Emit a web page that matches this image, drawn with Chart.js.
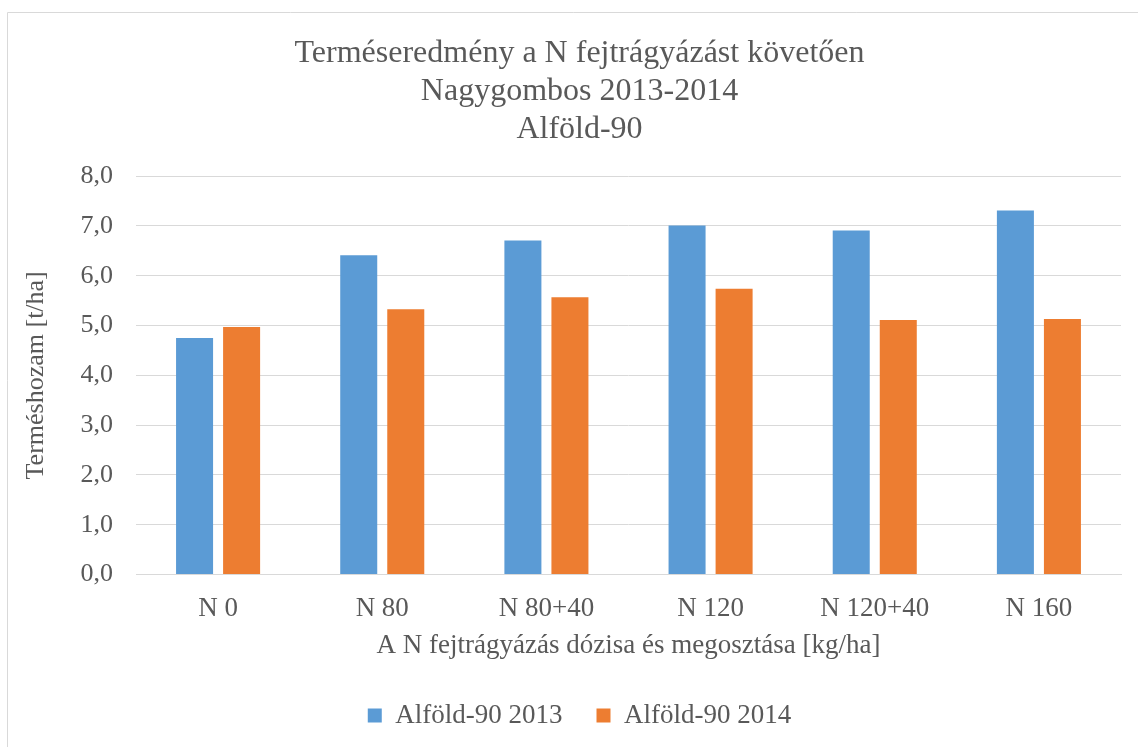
<!DOCTYPE html>
<html>
<head>
<meta charset="utf-8">
<script src="https://cdn.jsdelivr.net/npm/chart.js@4"></script>
<style>
  html, body { margin: 0; padding: 0; background: #fff; }
  #wrap { width: 1138px; height: 747px; }
</style>
</head>
<body>
<div id="wrap"><canvas id="myBarChart" width="1138" height="747"></canvas></div>
<script>
const categories = ["N 0", "N 80", "N 80+40", "N 120", "N 120+40", "N 160"];
const yield2013 = [4.75, 6.41, 6.71, 7.01, 6.91, 7.31];
const yield2014 = [4.97, 5.33, 5.57, 5.74, 5.11, 5.13];
const yTickLabels = ["0,0", "1,0", "2,0", "3,0", "4,0", "5,0", "6,0", "7,0", "8,0"];
const seriesNames = ["Alföld-90 2013", "Alföld-90 2014"];

const serif = "'Liberation Serif', 'Times New Roman', serif";
const textColor = "#595959";
const gridColor = "#d9d9d9";

// light frame around the chart (cut off on the right and bottom like the original)
const framePlugin = {
  id: "frame",
  beforeDraw(chart) {
    const ctx = chart.ctx;
    ctx.save();
    ctx.strokeStyle = gridColor;
    ctx.lineWidth = 1;
    ctx.beginPath();
    ctx.moveTo(7.5, chart.height + 2);
    ctx.lineTo(7.5, 12.5);
    ctx.lineTo(chart.width + 2, 12.5);
    ctx.stroke();
    ctx.restore();
  },
};

new Chart(document.getElementById("myBarChart").getContext("2d"), {
  type: "bar",
  data: {
    labels: categories,
    datasets: [
      {
        label: seriesNames[0],
        data: yield2013,
        backgroundColor: "#5B9BD5",
        categoryPercentage: 0.573,
        barPercentage: 0.787,
      },
      {
        label: seriesNames[1],
        data: yield2014,
        backgroundColor: "#ED7D31",
        categoryPercentage: 0.573,
        barPercentage: 0.787,
      },
    ],
  },
  options: {
    responsive: false,
    devicePixelRatio: 1,
    animation: false,
    layout: { padding: { left: 21, right: 0, top: 12, bottom: 8 } },
    scales: {
      x: {
        type: "category",
        grid: { display: false },
        border: { display: true, color: gridColor, width: 1 },
        ticks: {
          color: textColor,
          font: { family: serif, size: 27 },
          padding: 10,
          maxRotation: 0,
        },
        title: {
          display: true,
          text: "A N fejtrágyázás dózisa és megosztása [kg/ha]",
          color: textColor,
          font: { family: serif, size: 27 },
          padding: { top: 8, bottom: 6 },
        },
        afterFit(scale) {
          scale.height = 93.5;
        },
      },
      y: {
        type: "linear",
        min: 0,
        max: 8,
        grid: { color: gridColor, lineWidth: 1, drawTicks: false },
        border: { display: false },
        ticks: {
          stepSize: 1,
          color: textColor,
          font: { family: serif, size: 26 },
          padding: 23,
          callback: (v, i) => yTickLabels[i],
        },
        title: {
          display: true,
          text: "Terméshozam [t/ha]",
          color: textColor,
          font: { family: serif, size: 26 },
          padding: { top: 0, bottom: 10 },
        },
        afterFit(scale) {
          scale.width = 115;
        },
      },
      // empty strip on the right so the plot ends where the original does
      yRight: {
        type: "linear",
        position: "right",
        display: true,
        grid: { display: false },
        border: { display: false },
        ticks: { display: false },
        afterFit(scale) {
          scale.width = 17;
        },
      },
    },
    plugins: {
      title: {
        display: true,
        text: ["Terméseredmény a N fejtrágyázást követően", "Nagygombos 2013-2014", "Alföld-90"],
        color: textColor,
        font: { family: serif, size: 32, weight: "normal", lineHeight: 1.2 },
        padding: { top: 22, bottom: 27 },
      },
      legend: {
        position: "bottom",
        onClick: null,
        labels: {
          color: textColor,
          font: { family: serif, size: 27 },
          boxWidth: 14,
          boxHeight: 14,
          padding: 34,
        },
      },
      tooltip: { enabled: false },
    },
  },
  plugins: [framePlugin],
});
</script>
</body>
</html>
